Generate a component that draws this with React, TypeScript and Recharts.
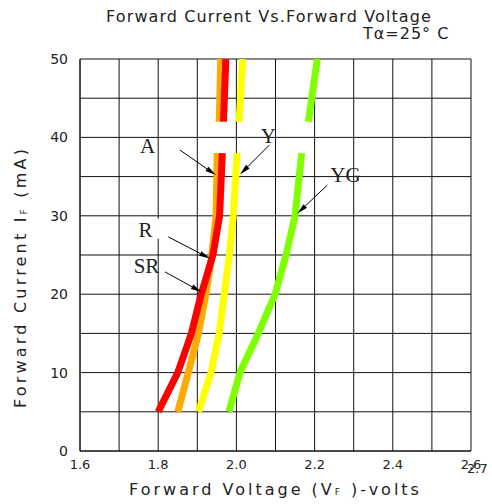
import React from "react";
import {
  LineChart,
  Line,
  XAxis,
  YAxis,
  CartesianGrid,
  ReferenceLine,
  ReferenceDot,
  Label,
} from "recharts";

// forward current (mA); null = gap in the curve where the labels sit
const currents = [5, 10, 15, 20, 25, 30, 38, null, 42, 50];
const redV = [1.8, 1.85, 1.885, 1.91, 1.94, 1.957, 1.964, 1.965, 1.967, 1.973];
const orangeV = [1.85, 1.877, 1.903, 1.922, 1.937, 1.948, 1.951, 1.953, 1.956, 1.96];
const yellowV = [1.903, 1.935, 1.956, 1.969, 1.982, 1.992, 2.002, 2.004, 2.007, 2.016];
const greenV = [1.981, 2.009, 2.056, 2.099, 2.127, 2.15, 2.167, 2.175, 2.184, 2.207];

const xTicks = [1.6, 1.7, 1.8, 1.9, 2.0, 2.1, 2.2, 2.3, 2.4, 2.5, 2.6];
const xLabeled = [1.6, 1.8, 2.0, 2.2, 2.4, 2.6];
const yTicks = [0, 5, 10, 15, 20, 25, 30, 35, 40, 45, 50];
const yLabeled = [0, 10, 20, 30, 40, 50];

// callouts: label position, arrow start, arrow end (data units)
const calloutNames = ["A", "Y", "YG", "R", "SR"];
const calloutX = [1.7726, 2.0816, 2.279, 1.7675, 1.770];
const calloutY = [38.89, 40.19, 35.18, 28.22, 23.56];
const arrowFrom = [[1.8558, 38.38], [2.0841, 39.02], [2.2325, 33.91], [1.8258, 27.31], [1.8174, 22.84]];
const arrowTo = [[1.9478, 35.19], [2.0092, 35.28], [2.1558, 30.29], [1.9325, 24.55], [1.9113, 20.28]];

const series = [
  { key: "orange", color: "#FFAA00", values: orangeV },
  { key: "red", color: "#FF0000", values: redV },
  { key: "yellow", color: "#FFFF00", values: yellowV },
  { key: "green", color: "#80FF00", values: greenV },
];

const toPoints = (values: number[]) =>
  values.map((v, i) => ({ v, i: currents[i] }));

const font = "'DejaVu Sans', sans-serif";

const Arrow = (props: any) => {
  const { x1, y1, x2, y2 } = props;
  const ang = Math.atan2(y2 - y1, x2 - x1);
  const len = 11;
  const w = 2.5;
  const bx = x2 - len * Math.cos(ang);
  const by = y2 - len * Math.sin(ang);
  const px = -Math.sin(ang) * w;
  const py = Math.cos(ang) * w;
  return (
    <g>
      <line x1={x1} y1={y1} x2={bx} y2={by} stroke="#000" strokeWidth={1} />
      <polygon
        points={`${x2},${y2} ${bx + px},${by + py} ${bx - px},${by - py}`}
        fill="#000"
      />
    </g>
  );
};

const calloutShape = (name: string) => (props: any) => {
  const { cx, cy } = props;
  return (
    <g>
      {name === "R" && (
        <rect x={cx - 14} y={cy - 11} width={29} height={20} fill="#fff" />
      )}
      <text
        x={cx}
        y={cy}
        textAnchor="middle"
        dominantBaseline="central"
        fontFamily="'Liberation Serif', serif"
        fontSize={21}
        fill="#222"
      >
        {name}
      </text>
    </g>
  );
};

const XTitle = (props: any) => {
  const { viewBox } = props;
  const cx = viewBox.x + viewBox.width / 2;
  return (
    <text x={cx} y={viewBox.y + 44} textAnchor="middle" fontFamily={font} fontSize={16} letterSpacing={3} fill="#222">
      Forward Voltage (V<tspan fontSize={9}>F</tspan> )-volts
    </text>
  );
};

const YTitle = (props: any) => {
  const { viewBox } = props;
  const x = viewBox.x - 30;
  const y = viewBox.y + viewBox.height / 2 + 22;
  return (
    <text
      x={x}
      y={y}
      transform={`rotate(-90, ${x}, ${y})`}
      textAnchor="middle"
      dominantBaseline="central"
      fontFamily={font}
      fontSize={16}
      letterSpacing={3.2}
      fill="#222"
    >
      Forward Current I<tspan fontSize={9} dy={4}>F</tspan>
      <tspan dy={-4}> (mA)</tspan>
    </text>
  );
};

export default function App() {
  return (
    <div style={{ position: "relative", width: 492, height: 504, background: "#fff" }}>
      <style>{"body{margin:0}"}</style>
      <div
        style={{
          position: "absolute",
          left: 0,
          width: 538,
          top: 7,
          textAlign: "center",
          fontFamily: font,
          fontSize: 16,
          letterSpacing: 1.1,
          color: "#222",
        }}
      >
        Forward Current Vs.Forward Voltage
      </div>
      <div
        style={{
          position: "absolute",
          left: 363,
          top: 24,
          fontFamily: font,
          fontSize: 16,
          letterSpacing: 1,
          color: "#222",
        }}
      >
        Tα=25° C
      </div>
      <div
        style={{
          position: "absolute",
          left: 467,
          top: 461,
          fontFamily: font,
          fontSize: 13,
          color: "#222",
        }}
      >
        2.7
      </div>
      <LineChart
        width={492}
        height={504}
        margin={{ top: 59, right: 21, bottom: 23, left: 50 }}
      >
        <CartesianGrid stroke="#111" strokeWidth={1} />
        <XAxis
          type="number"
          dataKey="v"
          domain={[1.6, 2.6]}
          ticks={xTicks}
          tickFormatter={(t: number) =>
            xLabeled.some((l) => Math.abs(l - t) < 1e-6) ? t.toFixed(1) : ""
          }
          allowDataOverflow
          tickLine={false}
          tickSize={0}
          tickMargin={9}
          height={30}
          axisLine={{ stroke: "#111" }}
          tick={{ fill: "#222", fontSize: 13, fontFamily: font }}
        >
          <Label content={<XTitle />} />
        </XAxis>
        <YAxis
          type="number"
          dataKey="i"
          domain={[0, 50]}
          ticks={yTicks}
          tickFormatter={(t: number) => (yLabeled.includes(t) ? String(t) : "")}
          allowDataOverflow
          tickLine={false}
          tickSize={0}
          tickMargin={12}
          width={30}
          axisLine={{ stroke: "#111" }}
          tick={{ fill: "#222", fontSize: 14, fontFamily: font }}
        >
          <Label content={<YTitle />} />
        </YAxis>
        {series.map((s) => (
          <Line
            key={s.key}
            data={toPoints(s.values)}
            dataKey="i"
            type="linear"
            stroke={s.color}
            strokeWidth={7}
            strokeLinecap="butt"
            strokeLinejoin="round"
            dot={false}
            activeDot={false}
            isAnimationActive={false}
          />
        ))}
        {calloutNames.map((n, k) => (
          <ReferenceLine
            key={"arrow-" + n}
            segment={[
              { x: arrowFrom[k][0], y: arrowFrom[k][1] },
              { x: arrowTo[k][0], y: arrowTo[k][1] },
            ]}
            shape={Arrow}
          />
        ))}
        {calloutNames.map((n, k) => (
          <ReferenceDot
            key={"label-" + n}
            x={calloutX[k]}
            y={calloutY[k]}
            r={0}
            shape={calloutShape(n)}
          />
        ))}
      </LineChart>
    </div>
  );
}
